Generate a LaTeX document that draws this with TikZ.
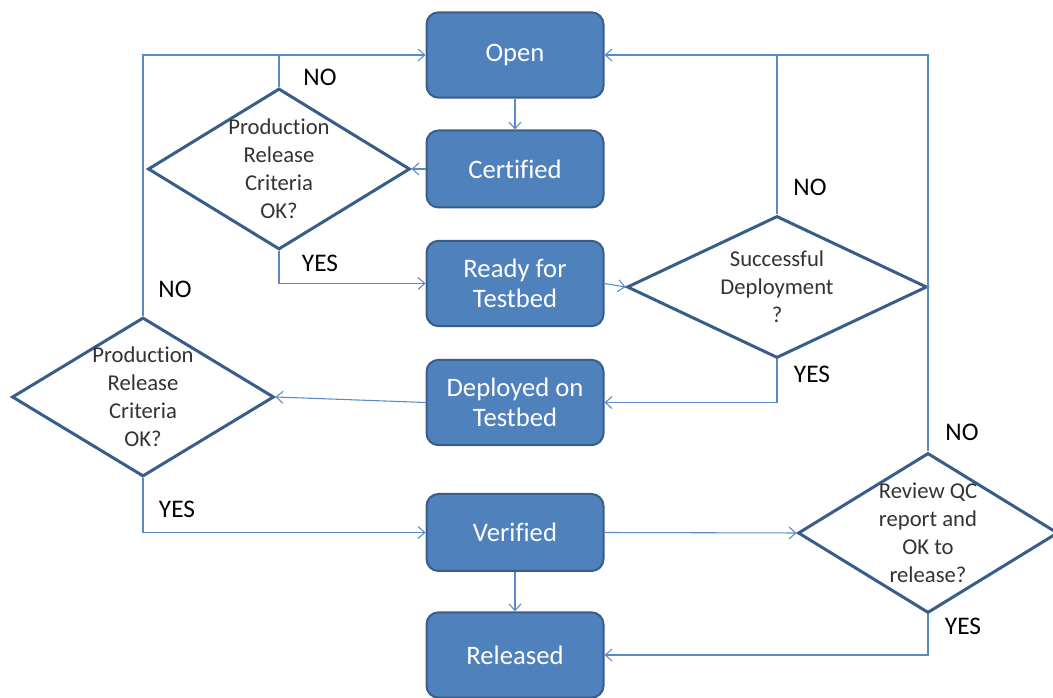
\documentclass[tikz,border=0pt]{standalone}
\usepackage{fontspec}
\setmainfont{Carlito}[Ligatures=NoCommon]
\usetikzlibrary{shapes.geometric,arrows.meta}
\definecolor{boxblue}{HTML}{4F81BD}
\definecolor{boxedge}{HTML}{385D8A}
\definecolor{flowline}{HTML}{5B8AC2}
\begin{document}
\begin{tikzpicture}[x=0.75pt,y=0.75pt,
    state/.style={draw=boxedge,line width=1.5pt,fill=boxblue,rounded corners=9pt,
        minimum width=132.75pt,minimum height=64pt,text=white,align=center,
        font=\fontsize{20}{22.5}\selectfont},
    decision/.style={diamond,draw=boxedge,line width=2.25pt,fill=white,inner sep=0pt},
    dtext/.style={align=center,text=black!80,font=\fontsize{17}{21}\selectfont},
    answer/.style={font=\fontsize{19}{22}\selectfont},
    flow/.style={draw=flowline,line width=0.8pt,-{Straight Barb[length=5pt,width=9pt]}}]
    \useasboundingbox (0,0) rectangle (1053,698);
    % states
    \node[state] (open) at (515,643) {Open};
    \node[state,minimum height=57.75pt] (cert) at (515,529) {Certified};
    \node[state] (ready) at (515,414.5) {Ready for\\Testbed};
    \node[state] (deployed) at (515,295.5) {Deployed on\\Testbed};
    \node[state,minimum height=57.75pt] (verified) at (515,165.5) {Verified};
    \node[state] (released) at (515,43) {Released};
    % decisions
    \node[decision,minimum width=196.5pt,minimum height=120.75pt] (crit1) at (279,529) {};
    \node[dtext] at (crit1) {Production\\Release\\Criteria\\OK?};
    \node[decision,minimum width=196.5pt,minimum height=119.25pt] (crit2) at (143,301) {};
    \node[dtext] at (crit2) {Production\\Release\\Criteria\\OK?};
    \node[decision,minimum width=225pt,minimum height=106.5pt] (deploy) at (777,411) {};
    \node[dtext] at (deploy) {Successful\\Deployment\\?};
    \node[decision,minimum width=195pt,minimum height=120pt] (review) at (928,165) {};
    \node[dtext] at (review) {Review QC\\report and\\OK to\\release?};
    % connectors
    \draw[flow] (open) -- (cert);
    \draw[flow] (cert) -- (crit1.east);
    \draw[flow] (crit1.south) |- (ready.west);
    \draw[draw=flowline,line width=0.8pt] (crit1.north) -- (crit1.north |- open.west);
    \draw[flow] (ready.east) -- (deploy.west);
    \draw[draw=flowline,line width=0.8pt] (deploy.north) -- (deploy.north |- open.east);
    \draw[flow] (deploy.south) |- (deployed.east);
    \draw[flow] (deployed.west) -- (crit2.east);
    \draw[flow] (crit2.north) |- (open.west);
    \draw[flow] (crit2.south) |- (verified.west);
    \draw[flow] (verified.east) -- (review.west);
    \draw[flow] (review.north) |- (open.east);
    \draw[flow] (review.south) |- (released.east);
    \draw[flow] (verified) -- (released);
    % answers
    \node[answer] at (320,621) {NO};
    \node[answer] at (320,435) {YES};
    \node[answer] at (175,409) {NO};
    \node[answer] at (177,189) {YES};
    \node[answer] at (810,511) {NO};
    \node[answer] at (812,324) {YES};
    \node[answer] at (962,266) {NO};
    \node[answer] at (963,72) {YES};
\end{tikzpicture}
\end{document}
